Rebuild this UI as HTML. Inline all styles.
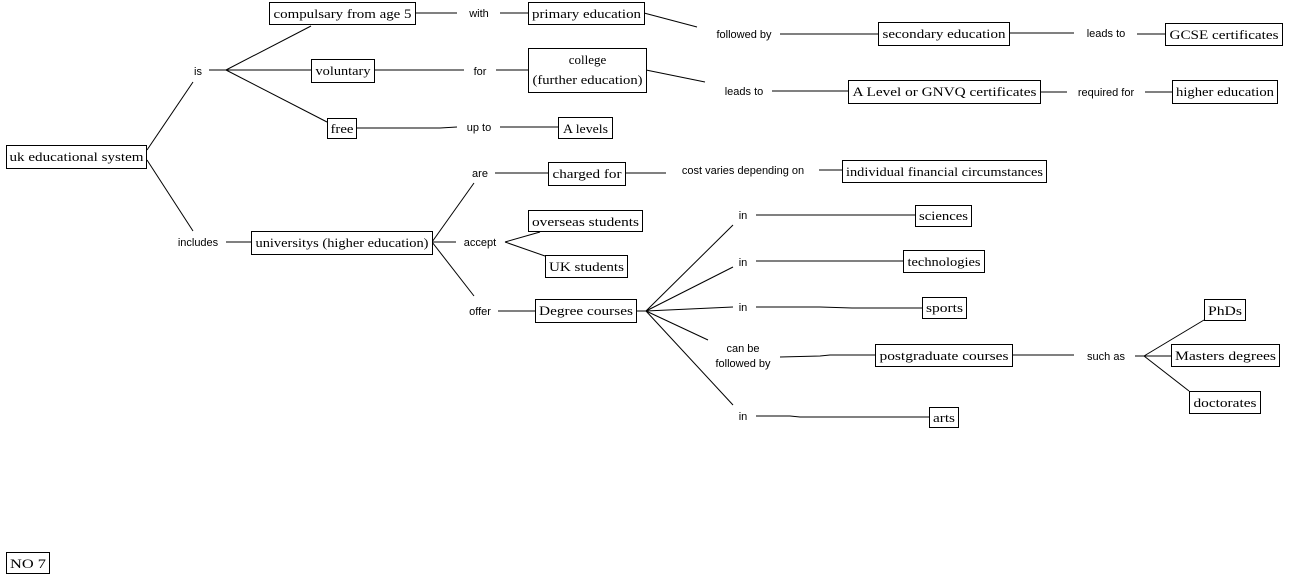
<!DOCTYPE html>
<html><head><meta charset="utf-8"><style>
html,body{margin:0;padding:0;background:#fff;}
svg{display:block;}
.b{fill:#fff;stroke:#000;stroke-width:1;}
.t{font-family:"Liberation Serif",serif;font-size:13px;fill:#000;}
.l{font-family:"Liberation Sans",sans-serif;font-size:11px;fill:#000;}
line,polyline{stroke:#000;stroke-width:1;fill:none;}
</style></head><body>
<svg width="1290" height="576" viewBox="0 0 1290 576" xmlns="http://www.w3.org/2000/svg">
<!-- connectors -->
<line x1="147" y1="150" x2="193" y2="82"/>
<line x1="147" y1="160" x2="193" y2="231"/>
<line x1="209" y1="70" x2="226" y2="70"/>
<line x1="226" y1="70" x2="311" y2="26"/>
<line x1="226" y1="70" x2="311" y2="70"/>
<line x1="226" y1="70" x2="327" y2="122"/>
<line x1="415" y1="13" x2="457" y2="13"/>
<line x1="500" y1="13" x2="528" y2="13"/>
<line x1="374" y1="70" x2="464" y2="70"/>
<line x1="496" y1="70" x2="528" y2="70"/>
<polyline points="356,128 440,128 457,127"/>
<line x1="500" y1="127" x2="558" y2="127"/>
<line x1="644" y1="13" x2="697" y2="27"/>
<line x1="780" y1="34" x2="878" y2="34"/>
<line x1="1009" y1="33" x2="1074" y2="33"/>
<line x1="1137" y1="34" x2="1165" y2="34"/>
<line x1="646" y1="70" x2="705" y2="82"/>
<line x1="772" y1="91" x2="848" y2="91"/>
<line x1="1040" y1="92" x2="1067" y2="92"/>
<line x1="1145" y1="92" x2="1172" y2="92"/>
<line x1="226" y1="242" x2="251" y2="242"/>
<line x1="432" y1="242" x2="474" y2="183"/>
<line x1="432" y1="242" x2="456" y2="242"/>
<line x1="432" y1="242" x2="474" y2="296"/>
<line x1="495" y1="173" x2="548" y2="173"/>
<line x1="625" y1="173" x2="666" y2="173"/>
<line x1="819" y1="170" x2="842" y2="170"/>
<line x1="505" y1="242" x2="540" y2="232"/>
<line x1="505" y1="242" x2="545" y2="256"/>
<line x1="498" y1="311" x2="535" y2="311"/>
<line x1="636" y1="311" x2="646" y2="311"/>
<line x1="646" y1="311" x2="733" y2="225"/>
<line x1="646" y1="311" x2="733" y2="267"/>
<line x1="646" y1="311" x2="733" y2="307"/>
<line x1="646" y1="311" x2="708" y2="340"/>
<line x1="646" y1="311" x2="733" y2="405"/>
<line x1="756" y1="215" x2="915" y2="215"/>
<line x1="756" y1="261" x2="903" y2="261"/>
<polyline points="756,307 820,307 852,308 922,308"/>
<polyline points="780,357 820,356 830,355 875,355"/>
<polyline points="756,416 790,416 800,417 929,417"/>
<line x1="1012" y1="355" x2="1074" y2="355"/>
<line x1="1135" y1="356" x2="1144" y2="356"/>
<line x1="1144" y1="356" x2="1204" y2="320"/>
<line x1="1144" y1="356" x2="1171" y2="356"/>
<line x1="1144" y1="356" x2="1189" y2="391"/>
<!-- boxes -->
<rect class="b" x="6.5" y="145.5" width="140" height="23"/><text class="t" x="76.5" y="161" text-anchor="middle" textLength="134" lengthAdjust="spacingAndGlyphs">uk educational system</text>
<rect class="b" x="269.5" y="2.5" width="146" height="22"/><text class="t" x="342.5" y="18" text-anchor="middle" textLength="138" lengthAdjust="spacingAndGlyphs">compulsary from age 5</text>
<rect class="b" x="311.5" y="59.5" width="63" height="23"/><text class="t" x="343" y="75" text-anchor="middle" textLength="55" lengthAdjust="spacingAndGlyphs">voluntary</text>
<rect class="b" x="327.5" y="118.5" width="29" height="20"/><text class="t" x="342" y="133" text-anchor="middle" textLength="23" lengthAdjust="spacingAndGlyphs">free</text>
<rect class="b" x="528.5" y="2.5" width="116" height="22"/><text class="t" x="586.5" y="18" text-anchor="middle" textLength="109" lengthAdjust="spacingAndGlyphs">primary education</text>
<rect class="b" x="528.5" y="48.5" width="118" height="44"/><text class="t" x="587.5" y="64" text-anchor="middle">college</text><text class="t" x="587.5" y="84" text-anchor="middle" textLength="110" lengthAdjust="spacingAndGlyphs">(further education)</text>
<rect class="b" x="558.5" y="117.5" width="54" height="21"/><text class="t" x="585.5" y="133" text-anchor="middle" textLength="45" lengthAdjust="spacingAndGlyphs">A levels</text>
<rect class="b" x="878.5" y="22.5" width="131" height="23"/><text class="t" x="944" y="38" text-anchor="middle" textLength="123" lengthAdjust="spacingAndGlyphs">secondary education</text>
<rect class="b" x="1165.5" y="23.5" width="117" height="22"/><text class="t" x="1224" y="39" text-anchor="middle" textLength="109" lengthAdjust="spacingAndGlyphs">GCSE certificates</text>
<rect class="b" x="848.5" y="80.5" width="192" height="23"/><text class="t" x="944.5" y="96" text-anchor="middle" textLength="184" lengthAdjust="spacingAndGlyphs">A Level or GNVQ certificates</text>
<rect class="b" x="1172.5" y="80.5" width="105" height="23"/><text class="t" x="1225" y="96" text-anchor="middle" textLength="98" lengthAdjust="spacingAndGlyphs">higher education</text>
<rect class="b" x="548.5" y="162.5" width="77" height="23"/><text class="t" x="587" y="178" text-anchor="middle" textLength="69" lengthAdjust="spacingAndGlyphs">charged for</text>
<rect class="b" x="842.5" y="160.5" width="204" height="22"/><text class="t" x="944.5" y="176" text-anchor="middle" textLength="197" lengthAdjust="spacingAndGlyphs">individual financial circumstances</text>
<rect class="b" x="251.5" y="231.5" width="181" height="23"/><text class="t" x="342" y="247" text-anchor="middle" textLength="173" lengthAdjust="spacingAndGlyphs">universitys (higher education)</text>
<rect class="b" x="528.5" y="210.5" width="114" height="21"/><text class="t" x="585.5" y="226" text-anchor="middle" textLength="107" lengthAdjust="spacingAndGlyphs">overseas students</text>
<rect class="b" x="545.5" y="255.5" width="82" height="22"/><text class="t" x="586.5" y="271" text-anchor="middle" textLength="75" lengthAdjust="spacingAndGlyphs">UK students</text>
<rect class="b" x="535.5" y="299.5" width="101" height="23"/><text class="t" x="586" y="315" text-anchor="middle" textLength="94" lengthAdjust="spacingAndGlyphs">Degree courses</text>
<rect class="b" x="915.5" y="205.5" width="56" height="21"/><text class="t" x="943.5" y="220" text-anchor="middle" textLength="49" lengthAdjust="spacingAndGlyphs">sciences</text>
<rect class="b" x="903.5" y="250.5" width="81" height="22"/><text class="t" x="944" y="266" text-anchor="middle" textLength="73" lengthAdjust="spacingAndGlyphs">technologies</text>
<rect class="b" x="922.5" y="297.5" width="44" height="21"/><text class="t" x="944.5" y="312" text-anchor="middle" textLength="37" lengthAdjust="spacingAndGlyphs">sports</text>
<rect class="b" x="875.5" y="344.5" width="137" height="22"/><text class="t" x="944" y="360" text-anchor="middle" textLength="129" lengthAdjust="spacingAndGlyphs">postgraduate courses</text>
<rect class="b" x="929.5" y="407.5" width="29" height="20"/><text class="t" x="944" y="422" text-anchor="middle" textLength="22" lengthAdjust="spacingAndGlyphs">arts</text>
<rect class="b" x="1204.5" y="299.5" width="41" height="21"/><text class="t" x="1225" y="315" text-anchor="middle" textLength="34" lengthAdjust="spacingAndGlyphs">PhDs</text>
<rect class="b" x="1171.5" y="344.5" width="108" height="22"/><text class="t" x="1225.5" y="360" text-anchor="middle" textLength="101" lengthAdjust="spacingAndGlyphs">Masters degrees</text>
<rect class="b" x="1189.5" y="391.5" width="71" height="22"/><text class="t" x="1225" y="407" text-anchor="middle" textLength="63" lengthAdjust="spacingAndGlyphs">doctorates</text>
<rect class="b" x="6.5" y="552.5" width="43" height="21"/><text class="t" x="28" y="568" text-anchor="middle" textLength="36" lengthAdjust="spacingAndGlyphs">NO 7</text>
<!-- labels -->
<text class="l" x="198" y="75" text-anchor="middle">is</text>
<text class="l" x="198" y="246" text-anchor="middle">includes</text>
<text class="l" x="479" y="17" text-anchor="middle">with</text>
<text class="l" x="480" y="75" text-anchor="middle">for</text>
<text class="l" x="479" y="131" text-anchor="middle">up to</text>
<text class="l" x="744" y="38" text-anchor="middle">followed by</text>
<text class="l" x="744" y="95" text-anchor="middle">leads to</text>
<text class="l" x="1106" y="37" text-anchor="middle">leads to</text>
<text class="l" x="1106" y="96" text-anchor="middle">required for</text>
<text class="l" x="480" y="177" text-anchor="middle">are</text>
<text class="l" x="743" y="174" text-anchor="middle">cost varies depending on</text>
<text class="l" x="480" y="246" text-anchor="middle">accept</text>
<text class="l" x="480" y="315" text-anchor="middle">offer</text>
<text class="l" x="743" y="219" text-anchor="middle">in</text>
<text class="l" x="743" y="266" text-anchor="middle">in</text>
<text class="l" x="743" y="311" text-anchor="middle">in</text>
<text class="l" x="743" y="352" text-anchor="middle">can be</text>
<text class="l" x="743" y="367" text-anchor="middle">followed by</text>
<text class="l" x="743" y="420" text-anchor="middle">in</text>
<text class="l" x="1106" y="360" text-anchor="middle">such as</text>
</svg>
</body></html>
